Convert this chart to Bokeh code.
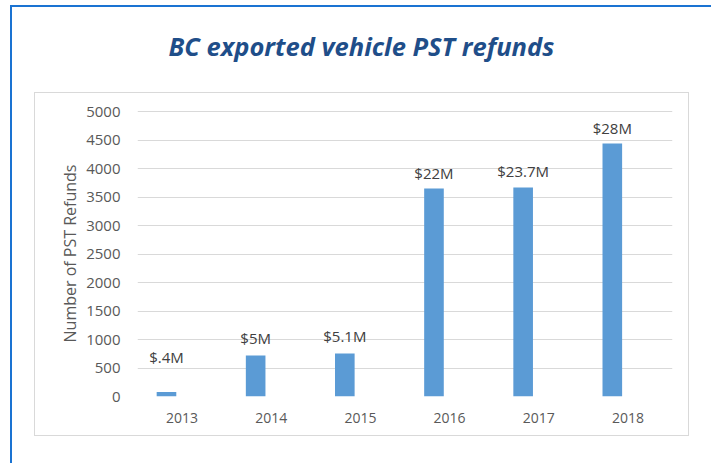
from bokeh.plotting import figure
from bokeh.layouts import column
from bokeh.models import FixedTicker, ColumnDataSource, Range1d, FactorRange
from bokeh.transform import dodge
from bokeh.core.properties import value
from bokeh.embed import file_html
from bokeh.resources import INLINE

# ---- data ----
years = ["2013", "2014", "2015", "2016", "2017", "2018"]
refunds = [80, 720, 755, 3650, 3670, 4440]
amount_labels = ["$.4M", "$5M", "$5.1M", "$22M", "$23.7M", "$28M"]
y_ticks = [0, 500, 1000, 1500, 2000, 2500, 3000, 3500, 4000, 4500, 5000]
chart_title = "BC exported vehicle PST refunds"
y_title = "Number of PST Refunds"

# ---- style / layout ----
label_dy = [-35, -17, -17, -16, -16, -16]  # pixel offsets of value labels
FONT = value("Open Sans")
BLUE_BORDER = "#1a73d2"
GRAY_BORDER = "#d9d9d9"

# title strip (its frame is aligned with the chart frame by the column layout)
TW, TH = 699, 85
title_fig = figure(width=TW, height=TH, x_range=Range1d(0, TW), y_range=Range1d(0, TH),
                   output_backend="svg", toolbar_location=None,
                   min_border=0, min_border_left=0, min_border_right=0,
                   min_border_top=0, min_border_bottom=0,
                   x_axis_type=None, y_axis_type=None)
title_fig.outline_line_color = None
title_fig.xgrid.visible = False
title_fig.ygrid.visible = False
title_fig.text(x=[298], y=[TH - 38], text=[chart_title], text_align="center",
               text_baseline="middle", text_font=FONT, text_font_style="bold italic",
               text_font_size="25.5px", text_color="#1f4e89")

# main chart
W, H = 655, 344
src = ColumnDataSource(dict(year=years, refunds=refunds, amount=amount_labels, dy=label_dy))

p = figure(width=W, height=H, x_range=FactorRange(*years), y_range=Range1d(0, 5020),
           output_backend="svg", toolbar_location=None,
           min_border_left=102, min_border_right=18,
           min_border_top=17, min_border_bottom=41)
p.outline_line_color = None
p.background_fill_color = "white"
p.border_fill_color = "white"

p.xgrid.grid_line_color = None
p.ygrid.grid_line_color = GRAY_BORDER
p.ygrid.ticker = FixedTicker(ticks=y_ticks)
p.yaxis.ticker = FixedTicker(ticks=y_ticks)

for ax in (p.xaxis[0], p.yaxis[0]):
    ax.axis_line_color = None
    ax.major_tick_line_color = None
    ax.minor_tick_line_color = None
    ax.major_tick_out = 0
    ax.major_tick_in = 0
    ax.major_label_text_font = "Open Sans"
    ax.major_label_text_color = "#595959"

p.yaxis.major_label_text_font_size = "15px"
p.xaxis.major_label_text_font_size = "14px"
p.yaxis.major_label_standoff = 17
p.xaxis.major_label_standoff = 16
p.yaxis.axis_label = y_title
p.yaxis.axis_label_text_font = "Open Sans"
p.yaxis.axis_label_text_font_style = "normal"
p.yaxis.axis_label_text_font_size = "16px"
p.yaxis.axis_label_text_color = "#595959"
p.yaxis.axis_label_standoff = 2

bar_x = dodge("year", -0.175, range=p.x_range)
p.vbar(x=bar_x, top="refunds", width=0.22, source=src,
       fill_color="#5b9bd5", line_color=None)
p.text(x=bar_x, y="refunds", text="amount", y_offset="dy", source=src,
       text_align="center", text_baseline="middle", text_font=FONT,
       text_font_size="15px", text_color="#404040")

p.margin = (0, 0, 40, 22)
p.styles = {"border": "1px solid " + GRAY_BORDER}

root = column(title_fig, p, margin=(5, 0, 0, 10),
              styles={"border-left": "2px solid " + BLUE_BORDER,
                      "border-top": "2px solid " + BLUE_BORDER})

open("out.html", "w").write(file_html(root, INLINE))
